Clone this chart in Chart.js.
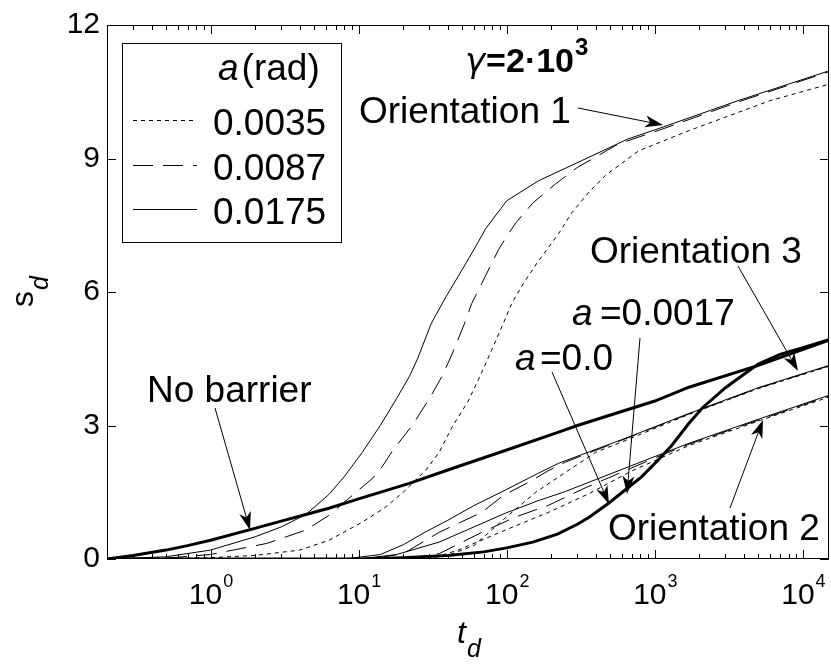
<!DOCTYPE html>
<html>
<head>
<meta charset="utf-8">
<script src="https://cdn.jsdelivr.net/npm/chart.js@4.4.1/dist/chart.umd.min.js"></script>
<style>
  html, body { margin: 0; padding: 0; background: #fff; }
  #wrap { width: 831px; height: 665px; }
</style>
</head>
<body>
<div id="wrap"><canvas id="myChart" width="831" height="665"></canvas></div>
<script>
// values, [t_d, s_d]
const noBarrier = [[0.2,0],[0.3,0.08],[0.5,0.2],[0.7,0.3],[1,0.42],[1.8,0.65],[3,0.85],[4.4,1.0],[6.3,1.14],[10,1.35],[22,1.7],[40,2.0],[100,2.45],[224,2.85],[300,3.0],[1000,3.55],[1700,3.86],[5000,4.35],[15000,4.92]];
// a = 0.0 and a = 0.0017 (drawn on top of each other)
const alphaZero = [[0.2,0],[10,0],[20,0.03],[40,0.08],[70,0.16],[100,0.25],[150,0.38],[220,0.56],[300,0.78],[360,0.94],[490,1.26],[630,1.55],[810,1.84],[1050,2.22],[1300,2.55],[1700,3.05],[2100,3.4],[3000,3.85],[4000,4.15],[5000,4.38],[7000,4.6],[10000,4.75],[15000,4.93]];

// orientation 1
const o1a0175 = [[0.2,0],[0.5,0.05],[1,0.2],[2,0.5],[3,0.72],[4.4,1.0],[6.3,1.45],[8,1.85],[10.6,2.4],[14,3.0],[18,3.6],[22,4.1],[25,4.5],[31,5.3],[39,5.9],[47,6.35],[60,6.95],[72,7.42],[100,8.05],[164,8.5],[320,8.95],[660,9.44],[1100,9.69],[3650,10.3],[15000,10.97]];
const o1a0087 = [[0.2,0],[0.5,0.02],[1,0.1],[2.4,0.35],[4.4,0.65],[6.3,0.98],[9.6,1.5],[12.3,1.8],[14.4,2.07],[17,2.44],[23,3.0],[30,3.6],[36.5,4.1],[42.7,4.6],[52,5.3],[58,5.74],[68,6.2],[78,6.6],[88,6.95],[100,7.25],[115,7.55],[150,8.0],[214,8.43],[300,8.8],[570,9.33],[1100,9.65],[3650,10.27],[15000,10.95]];
const o1a0035 = [[0.2,0],[1,0.03],[2,0.08],[4,0.2],[6.3,0.42],[10.6,0.83],[15,1.15],[20,1.5],[28.5,2.0],[35,2.4],[42.7,2.96],[55,3.55],[68,4.2],[79,4.69],[95,5.3],[108,5.74],[130,6.2],[164,6.7],[224,7.31],[275,7.78],[360,8.25],[464,8.62],[776,9.17],[1680,9.62],[6000,10.3],[15000,10.67]];

// orientation 3
const o3a0175 = [[0.2,0],[8,0],[14,0.1],[20,0.32],[28,0.6],[40,0.87],[60,1.2],[98,1.55],[164,1.93],[224,2.15],[630,2.71],[1700,3.27],[5000,3.85],[15000,4.35]];
const o3a0087 = [[0.2,0],[12,0],[20,0.12],[35,0.6],[68,1.05],[95,1.43],[140,1.72],[190,1.98],[250,2.18],[630,2.7],[1700,3.26],[5000,3.84],[15000,4.34]];
const o3a0035 = [[0.2,0],[25,0],[40,0.08],[60,0.3],[100,0.95],[157,1.5],[250,1.95],[400,2.4],[630,2.66],[1700,3.25],[5000,3.83],[15000,4.33]];

// orientation 2
const o2a0175 = [[0.2,0],[10,0],[18,0.1],[35,0.38],[60,0.72],[98,1.03],[160,1.3],[250,1.52],[1050,2.33],[1700,2.6],[5200,3.16],[15000,3.68]];
const o2a0087 = [[0.2,0],[20,0],[35,0.12],[68,0.6],[114,0.94],[192,1.21],[350,1.62],[1050,2.3],[1700,2.58],[5200,3.14],[15000,3.66]];
const o2a0035 = [[0.2,0],[30,0],[47,0.2],[98,0.65],[192,1.05],[350,1.45],[700,1.98],[1700,2.55],[5200,3.12],[15000,3.64]];

const yTicks = [0, 3, 6, 9, 12];
const xDecades = [0, 1, 2, 3, 4];
const legendLabels = ['0.0035', '0.0087', '0.0175'];

const FONT = "'Liberation Sans', Arial, Helvetica, sans-serif";
const DOT = [4, 4];
const DASH = [20, 10];
const legendDash = [DOT, DASH, []];

function pts(arr) {
    return arr.map(p => ({ x: p[0], y: p[1] }));
}

function curve(arr, dash, width) {
    return {
        data: pts(arr),
        borderColor: '#000',
        borderWidth: width || 1,
        borderDash: dash,
        pointRadius: 0,
        fill: false,
        tension: 0
    };
}

// text labels and arrows (pixel positions)
const notes = [
    { text: 'Orientation 1', x: 359, y: 123 },
    { text: 'Orientation 3', x: 590, y: 263 },
    { text: 'Orientation 2', x: 608, y: 540 },
    { text: 'No barrier', x: 147, y: 402 }
];
const arrows = [
    [578, 108, 663, 125],
    [738, 266, 798, 371],
    [640, 338, 627, 494],
    [552, 372, 609, 504],
    [215, 408, 250, 530],
    [730, 508, 763, 420]
];

function drawArrow(ctx, x0, y0, x1, y1) {
    const ang = Math.atan2(y1 - y0, x1 - x0);
    const L = 18, W = 6, N = 13;
    ctx.beginPath();
    ctx.moveTo(x0, y0);
    ctx.lineTo(x1 - Math.cos(ang) * N, y1 - Math.sin(ang) * N);
    ctx.stroke();
    const c = Math.cos(ang), s = Math.sin(ang);
    ctx.beginPath();
    ctx.moveTo(x1, y1);
    ctx.lineTo(x1 - c * L + s * W, y1 - s * L - c * W);
    ctx.lineTo(x1 - c * N, y1 - s * N);
    ctx.lineTo(x1 - c * L - s * W, y1 - s * L + c * W);
    ctx.closePath();
    ctx.fill();
}

const decor = {
    id: 'decor',
    afterDraw(chart) {
        const ctx = chart.ctx;
        const a = chart.chartArea;
        const xs = chart.scales.x, ys = chart.scales.y;
        ctx.save();
        ctx.strokeStyle = '#000';
        ctx.fillStyle = '#000';
        ctx.lineWidth = 1;
        ctx.setLineDash([]);

        // box + inward ticks
        ctx.strokeRect(a.left + 0.5, a.top + 0.5, a.right - a.left - 1, a.bottom - a.top - 1);
        ctx.beginPath();
        for (let e = -1; e <= 4; e++) {
            for (let m = 1; m <= 9; m++) {
                const v = m * Math.pow(10, e);
                if (v < xs.min || v > xs.max) continue;
                const px = Math.round(xs.getPixelForValue(v)) + 0.5;
                const len = m === 1 ? 9 : 5;
                ctx.moveTo(px, a.bottom); ctx.lineTo(px, a.bottom - len);
                ctx.moveTo(px, a.top); ctx.lineTo(px, a.top + len);
            }
        }
        yTicks.forEach(v => {
            const py = Math.round(ys.getPixelForValue(v)) + 0.5;
            ctx.moveTo(a.left, py); ctx.lineTo(a.left + 9, py);
            ctx.moveTo(a.right, py); ctx.lineTo(a.right - 9, py);
        });
        ctx.stroke();

        // x tick labels 10^k
        ctx.textBaseline = 'alphabetic';
        ctx.textAlign = 'left';
        xDecades.forEach(k => {
            const px = xs.getPixelForValue(Math.pow(10, k));
            ctx.font = `30px ${FONT}`;
            const w1 = ctx.measureText('10').width;
            ctx.font = `18px ${FONT}`;
            const w2 = ctx.measureText(String(k)).width;
            const x0 = px - (w1 + w2) / 2;
            ctx.font = `30px ${FONT}`;
            ctx.fillText('10', x0, a.bottom + 45);
            ctx.font = `18px ${FONT}`;
            ctx.fillText(String(k), x0 + w1 + 1, a.bottom + 28);
        });

        // axis titles
        ctx.font = `italic 32px ${FONT}`;
        ctx.fillText('t', 457, 643);
        ctx.font = `italic 25px ${FONT}`;
        ctx.fillText('d', 467, 657);
        ctx.save();
        ctx.translate(33, 307);
        ctx.rotate(-Math.PI / 2);
        ctx.font = `32px ${FONT}`;
        ctx.fillText('s', 0, 0);
        ctx.font = `italic 25px ${FONT}`;
        ctx.fillText('d', 17, 15);
        ctx.restore();

        // legend
        ctx.strokeRect(122.5, 43.5, 219, 199);
        ctx.font = `italic 37px ${FONT}`;
        ctx.fillText('a', 218, 80);
        const wa = ctx.measureText('a').width;
        ctx.font = `37px ${FONT}`;
        ctx.fillText('(rad)', 218 + wa + 3, 80);
        legendLabels.forEach((lab, i) => {
            const ty = 135 + i * 44.5;
            ctx.fillText(lab, 213, ty);
            ctx.setLineDash(legendDash[i]);
            ctx.beginPath();
            ctx.moveTo(133, Math.round(ty - 15) + 0.5);
            ctx.lineTo(197, Math.round(ty - 15) + 0.5);
            ctx.stroke();
        });
        ctx.setLineDash([]);

        // gamma label
        let gx = 465;
        ctx.font = `italic 34px 'DejaVu Sans', ${FONT}`;
        ctx.fillText('\u03b3', gx, 72);
        gx += ctx.measureText('\u03b3').width + 1;
        ctx.font = `bold 34px ${FONT}`;
        ctx.fillText('=2\u00b710', gx, 72);
        gx += ctx.measureText('=2\u00b710').width + 1;
        ctx.font = `bold 24px ${FONT}`;
        ctx.fillText('3', gx, 55);

        // annotations
        ctx.font = `37px ${FONT}`;
        notes.forEach(n => ctx.fillText(n.text, n.x, n.y));
        ctx.font = `italic 37px ${FONT}`;
        ctx.fillText('a', 572, 325);
        ctx.fillText('a', 515, 370);
        ctx.font = `37px ${FONT}`;
        ctx.fillText('=0.0017', 600, 325);
        ctx.fillText('=0.0', 540, 370);

        ctx.lineWidth = 1;
        arrows.forEach(ar => drawArrow(ctx, ar[0], ar[1], ar[2], ar[3]));
        ctx.restore();
    }
};

const ctx = document.getElementById('myChart').getContext('2d');
const myChart = new Chart(ctx, {
    type: 'line',
    data: {
        datasets: [
            curve(o1a0035, DOT), curve(o1a0087, DASH), curve(o1a0175, []),
            curve(o3a0035, DOT), curve(o3a0087, DASH), curve(o3a0175, []),
            curve(o2a0035, DOT), curve(o2a0087, DASH), curve(o2a0175, []),
            curve(noBarrier, [], 3),
            curve(alphaZero, [], 3)
        ]
    },
    options: {
        responsive: false,
        animation: false,
        devicePixelRatio: 1,
        layout: { padding: { top: 24, right: 2, left: 0, bottom: 0 } },
        plugins: {
            legend: { display: false },
            tooltip: { enabled: false }
        },
        scales: {
            x: {
                type: 'logarithmic',
                min: 0.2,
                max: 15000,
                ticks: { display: false },
                grid: { display: false, drawTicks: false },
                border: { display: false },
                afterFit: s => { s.height = 106; }
            },
            y: {
                type: 'linear',
                min: 0,
                max: 12,
                ticks: { stepSize: 3, color: '#000', padding: 7, font: { family: FONT, size: 30 } },
                grid: { display: false, drawTicks: false },
                border: { display: false },
                afterFit: s => { s.width = 107; }
            }
        }
    },
    plugins: [decor]
});
</script>
</body>
</html>
